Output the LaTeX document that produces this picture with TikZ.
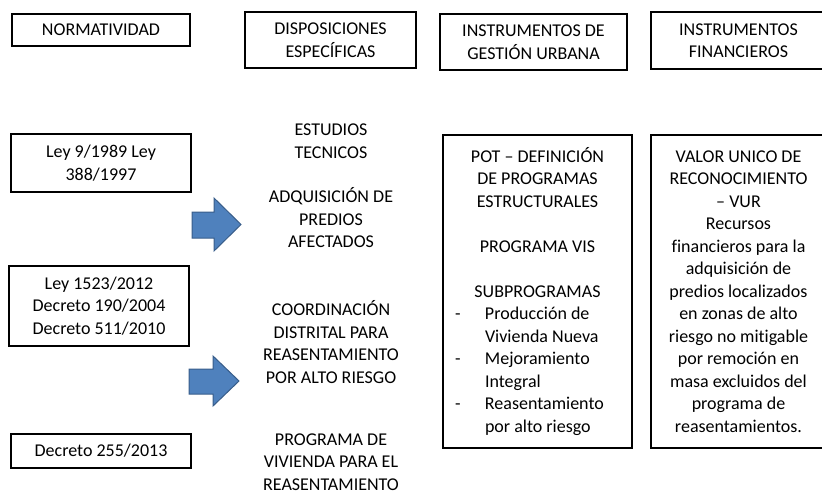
\documentclass[tikz,border=0pt]{standalone}
\usepackage{fontspec}
\setmainfont[Ligatures=NoCommon]{Carlito}

\definecolor{flechaazul}{HTML}{4F81BD}
\definecolor{bordeazul}{HTML}{385D8A}
\newcommand{\renglon}[2]{\makebox[170pt][l]{\makebox[32.5pt][l]{\hspace{2.5pt}#1}#2}}

\begin{document}
\begin{tikzpicture}[x=1pt, y=-1pt,
        every node/.style={font=\fontsize{18}{22.5}\selectfont},
        caja/.style={draw, line width=1.9pt, inner sep=0pt, align=center},
        texto/.style={inner sep=0pt, align=center},
        flecha/.style={draw=bordeazul, fill=flechaazul, line width=1pt}]
            \useasboundingbox (0, 0) rectangle (822, 496);

            \node [caja, minimum width=178pt, minimum height=32pt] (norm) at (101, 30) {NORMATIVIDAD};
            \node [caja, minimum width=171pt, minimum height=56pt] (disp) at (330.5, 40) {DISPOSICIONES\\ESPECÍFICAS};
            \node [caja, minimum width=187pt, minimum height=56pt] (gest) at (533.5, 42) {INSTRUMENTOS DE\\GESTIÓN URBANA};
            \node [caja, minimum width=175pt, minimum height=57pt] (fin) at (738.5, 40.5) {INSTRUMENTOS\\FINANCIEROS};

            \node [caja, minimum width=180pt, minimum height=58pt] (ley) at (101, 163) {Ley 9/1989 Ley\\388/1997};
            \node [caja, minimum width=180pt, minimum height=80pt] (ley1523) at (99, 306)
                {Ley 1523/2012\\Decreto 190/2004\\Decreto 511/2010};
            \node [caja, minimum width=180pt, minimum height=34pt] (dec255) at (101, 451) {Decreto 255/2013};

            \node [texto] (estudios) at (331, 141) {ESTUDIOS\\TECNICOS};
            \node [texto] (adquis) at (331, 218) {ADQUISICIÓN DE\\PREDIOS\\AFECTADOS};
            \node [texto] (coord) at (331, 342) {COORDINACIÓN\\DISTRITAL PARA\\REASENTAMIENTO\\POR ALTO RIESGO};
            \node [texto] (progviv) at (331, 462) {PROGRAMA DE\\VIVIENDA PARA EL\\REASENTAMIENTO};

            \node [caja, minimum width=189pt, minimum height=313pt] (pot) at (537.5, 291.5)
                {POT – DEFINICIÓN\\DE PROGRAMAS\\ESTRUCTURALES\\\mbox{}\\PROGRAMA VIS\\\mbox{}\\SUBPROGRAMAS\\
                 \renglon{-}{Producción de}\\\renglon{}{Vivienda Nueva}\\
                 \renglon{-}{Mejoramiento}\\\renglon{}{Integral}\\
                 \renglon{-}{Reasentamiento}\\\renglon{}{por alto riesgo}};
            \node [caja, minimum width=175pt, minimum height=313pt] (vur) at (738.5, 291.5)
                {VALOR UNICO DE\\RECONOCIMIENTO\\– VUR\\Recursos\\financieros para la\\adquisición de\\
                 predios localizados\\en zonas de alto\\riesgo no mitigable\\por remoción en\\
                 masa excluidos del\\programa de\\reasentamientos.};

            \draw [flecha] (192, 212) -- (214, 212) -- (214, 198) -- (241, 224.5)
                -- (214, 251) -- (214, 238) -- (192, 238) -- cycle;
            \draw [flecha] (189, 369) -- (213, 369) -- (213, 356) -- (239, 381)
                -- (213, 406) -- (213, 394) -- (189, 394) -- cycle;

        \end{tikzpicture}
\end{document}
